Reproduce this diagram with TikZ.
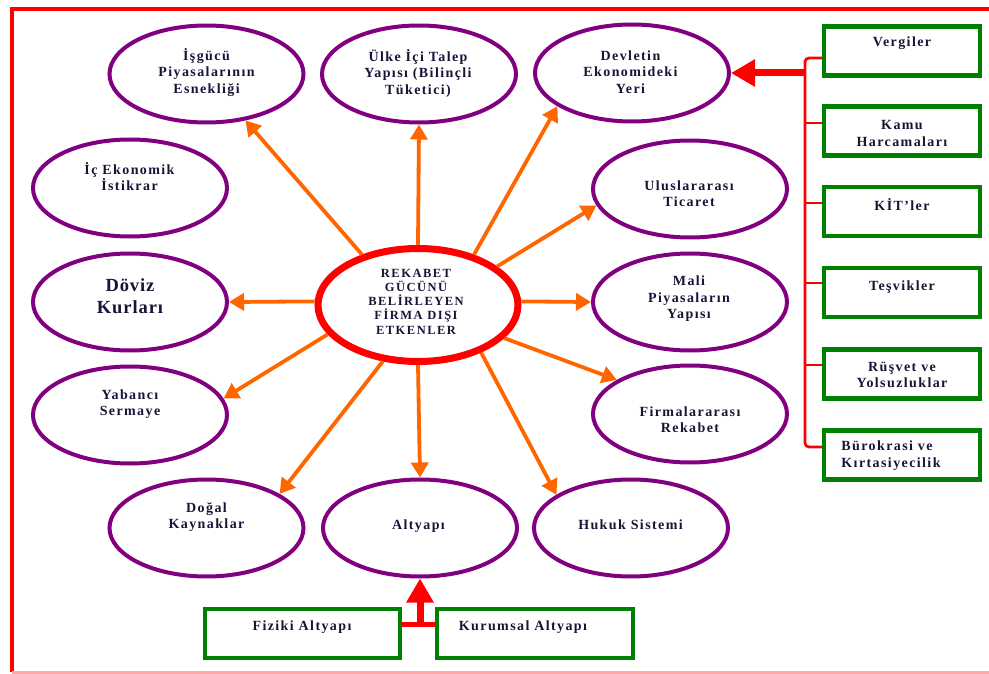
\documentclass[tikz,border=0pt]{standalone}
\usepackage{fontspec}
\setmainfont{Liberation Serif}
\newfontfamily\lblfont[LetterSpace=10]{Liberation Serif}
\newfontfamily\cenfont[LetterSpace=12]{Liberation Serif}
\newfontfamily\bigfont[LetterSpace=5]{Liberation Serif}
\usetikzlibrary{arrows.meta,shapes.geometric}
\definecolor{ovpurple}{RGB}{128,0,128}
\definecolor{boxgreen}{RGB}{0,128,0}
\definecolor{arrorange}{RGB}{255,102,0}
\definecolor{txtnavy}{RGB}{25,20,55}
\begin{document}
\begin{tikzpicture}[x=1pt,y=-1pt,
  oval/.style={ellipse, draw=ovpurple, line width=4pt, minimum width=194pt, minimum height=97pt, inner sep=0pt},
  hub/.style={ellipse, draw=red, line width=7pt, minimum width=200pt, minimum height=113pt, inner sep=0pt},
  gbox/.style={rectangle, draw=boxgreen, line width=4.5pt, minimum width=156pt, minimum height=49pt, inner sep=0pt},
  lbl/.style={font=\lblfont\bfseries\fontsize{14}{16.5}\selectfont, text=txtnavy, align=center, inner sep=0pt},
  cenlbl/.style={font=\cenfont\bfseries\fontsize{12.5}{14.3}\selectfont, text=txtnavy, align=center, inner sep=0pt},
  biglbl/.style={font=\bigfont\bfseries\fontsize{18.5}{22}\selectfont, text=txtnavy, align=center, inner sep=0pt},
  oarrow/.style={draw=arrorange, line width=3.8pt, -{Triangle[length=15pt,width=17pt]}},
  rline/.style={draw=red, line width=2.8pt},
  rthick/.style={draw=red, line width=7pt, -{Triangle[length=24pt,width=26pt]}},
]
\useasboundingbox (0,0) rectangle (989,674);
% frame
\draw[red, line width=4pt] (1000,9.5) -- (11.5,9.5) -- (11.5,672);
\draw[red!35, line width=3pt] (11.5,672) -- (1000,672);

% ellipses
\node[hub] (hub) at (418,305) {};
\node[oval] (isg) at (206.5,74) {};
\node[oval] (ulke) at (419,74) {};
\node[oval] (dev) at (632,73) {};
\node[oval] (ice) at (130,188) {};
\node[oval] (ulus) at (690,189) {};
\node[oval] (dov) at (130,302) {};
\node[oval] (mali) at (690,302) {};
\node[oval] (yab) at (130,415) {};
\node[oval] (firm) at (690,414) {};
\node[oval] (dog) at (206.5,528) {};
\node[oval] (alt) at (420,528) {};
\node[oval] (huk) at (631,528) {};

% labels
\node[cenlbl] (thub) at (416,301.5) {REKABET\\GÜCÜNÜ\\BELİRLEYEN\\FİRMA DIŞI\\ETKENLER};
\node[lbl] (tisg) at (206.5,72.5) {İşgücü\\Piyasalarının\\Esnekliği};
\node[lbl] (tulke) at (418,73) {Ülke İçi Talep\\Yapısı (Bilinçli\\Tüketici)};
\node[lbl] (tdev) at (630.5,72) {Devletin\\Ekonomideki\\Yeri};
\node[lbl] (tice) at (129.5,176.5) {İç Ekonomik\\İstikrar};
\node[lbl] (tulus) at (689,193.5) {Uluslararası\\Ticaret};
\node[biglbl] (tdov) at (130,296) {Döviz\\Kurları};
\node[lbl] (tmali) at (689,299) {Mali\\Piyasaların\\Yapısı};
\node[lbl] (tyab) at (130,404) {Yabancı\\Sermaye};
\node[lbl] (tfirm) at (690,419.5) {Firmalararası\\Rekabet};
\node[lbl] (tdog) at (206.5,517) {Doğal\\Kaynaklar};
\node[lbl] (talt) at (418.5,526) {Altyapı};
\node[lbl] (thuk) at (630.5,525) {Hukuk Sistemi};

% orange arrows
\draw[oarrow] (hub.138) -- (isg.-50);
\draw[oarrow] (hub.90) -- (ulke.-90);
\draw[oarrow] (hub.42) -- (dev.204);
\draw[oarrow] (hub.26) -- (ulus.190);
\draw[oarrow] (hub.2) -- (mali.180);
\draw[oarrow] (hub.-21) -- (firm.155);
\draw[oarrow] (hub.-37) -- (huk.156);
\draw[oarrow] (hub.-90) -- (alt.90);
\draw[oarrow] (hub.-122) -- (dog.25);
\draw[oarrow] (hub.-162) -- (yab.10);
\draw[oarrow] (hub.178) -- (dov.0);

% green boxes right
\node[gbox] (verg) at (902,51) {};
\node[gbox] (kamu) at (902,131) {};
\node[gbox] (kit) at (902,211.5) {};
\node[gbox] (tesv) at (902,292.5) {};
\node[gbox] (rusv) at (902,374) {};
\node[gbox] (buro) at (902,455) {};
\node[lbl] (tverg) at (902,43) {Vergiler};
\node[lbl] (tkamu) at (902,133.5) {Kamu\\Harcamaları};
\node[lbl] (tkit) at (902,205) {KİT’ler};
\node[lbl] (ttesv) at (902,287) {Teşvikler};
\node[lbl] (trusv) at (902,375) {Rüşvet ve\\Yolsuzluklar};
\node[lbl, align=left] (tburo) at (891,455.5) {Bürokrasi ve\\Kırtasiyecilik};

% bottom boxes
\node[gbox, minimum width=195pt] (fiz) at (302.5,633.5) {};
\node[gbox, minimum width=196pt] (kur) at (535,633.5) {};
\node[lbl] (tfiz) at (302,627) {Fiziki Altyapı};
\node[lbl] (tkur) at (523,627) {Kurumsal Altyapı};

% right red connectors
\coordinate (vtop) at (805,58);
\coordinate (vbot) at (805,447);
\coordinate (vj) at (805,73);
\coordinate (kb) at ([yshift=8pt]kamu.west);
\coordinate (kib) at ([yshift=8.5pt]kit.west);
\coordinate (tb) at ([yshift=9.5pt]tesv.west);
\coordinate (rb) at ([yshift=9pt]rusv.west);
\draw[rline, rounded corners=4pt] ([yshift=-7pt]verg.west) -- (vtop) -- (vbot) -- ([yshift=8pt]buro.west);
\draw[rline] (kb -| vtop) -- (kb);
\draw[rline] (kib -| vtop) -- (kib);
\draw[rline] (tb -| vtop) -- (tb);
\draw[rline] (rb -| vtop) -- (rb);
\draw[rthick] (vj) -- (dev.east);

% bottom red connectors
\coordinate (fb) at ([yshift=9.5pt]fiz.east);
\coordinate (kub) at ([yshift=9.5pt]kur.west);
\draw[draw=red, line width=5pt] (fb) -- (kub);
\coordinate (bj) at (alt.south |- fb);
\draw[rthick] (bj) -- (alt.south);
\end{tikzpicture}
\end{document}
